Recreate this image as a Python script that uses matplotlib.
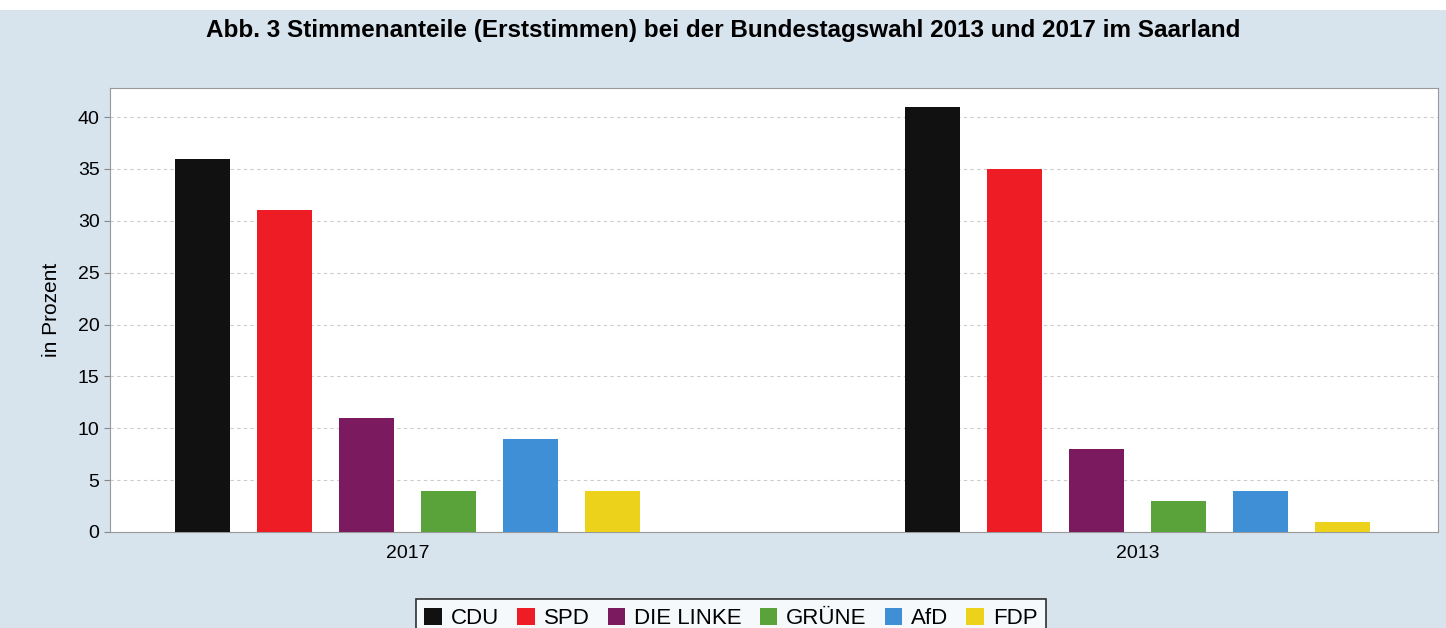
import numpy as np
import matplotlib.pyplot as plt
from matplotlib.patches import Rectangle

# Daten
jahre = ["2017", "2013"]
parteien = ["CDU", "SPD", "DIE LINKE", "GRÜNE", "AfD", "FDP"]
farben = ["#111111", "#ee1c24", "#7b1a5e", "#5aa33a", "#3f8fd6", "#ecd21a"]
werte_2017 = [36, 31, 11, 4, 9, 4]
werte_2013 = [41, 35, 8, 3, 4, 1]

plt.rcParams['font.family'] = ['Liberation Sans', 'DejaVu Sans']

fig = plt.figure(figsize=(14.46, 6.28), dpi=100)
fig.patch.set_facecolor("#d7e3ed")
# weisser Streifen oben
fig.patches.append(Rectangle((0, 1 - 10 / 628), 1, 10 / 628, transform=fig.transFigure,
                             facecolor="white", edgecolor="none", zorder=0))

ax = fig.add_axes([110 / 1446, 1 - 532 / 628, 1328 / 1446, 444 / 628])
ax.set_facecolor("white")

x = np.arange(len(jahre))
breite = 55 / 730
schritt = 82 / 730
werte = np.array([werte_2017, werte_2013])
for i, (partei, farbe) in enumerate(zip(parteien, farben)):
    ax.bar(x + (i - 2.5) * schritt, werte[:, i], width=breite, color=farbe,
           label=partei, zorder=3)

ax.set_xlim(-0.408, 1.411)
ax.set_ylim(0, 42.8)
ax.set_yticks(range(0, 41, 5))
ax.set_xticks(x)
ax.set_xticklabels(jahre)
ax.tick_params(axis='both', labelsize=14, color="#888888", length=4)
ax.tick_params(axis='x', length=0, pad=9)
ax.grid(axis='y', linestyle=(0, (3, 3)), color="#cccccc", linewidth=0.8, zorder=0)
for s in ax.spines.values():
    s.set_color("#999999")
ax.set_ylabel("in Prozent", fontsize=15, labelpad=12)

fig.text(0.5, 1 - 30 / 628, "Abb. 3 Stimmenanteile (Erststimmen) bei der Bundestagswahl 2013 und 2017 im Saarland",
         ha='center', va='center', fontsize=17.5, fontweight='bold')

leg = fig.legend(loc='upper center', bbox_to_anchor=(731 / 1446, 1 - 588 / 628), ncol=6,
                 fontsize=16, frameon=True, fancybox=False, handlelength=0.8,
                 handleheight=0.8, handletextpad=0.4, columnspacing=0.8,
                 borderpad=0.4)
leg.get_frame().set_edgecolor("black")
leg.get_frame().set_linewidth(1.2)

fig.savefig("out.png", dpi=100, facecolor=fig.get_facecolor())
